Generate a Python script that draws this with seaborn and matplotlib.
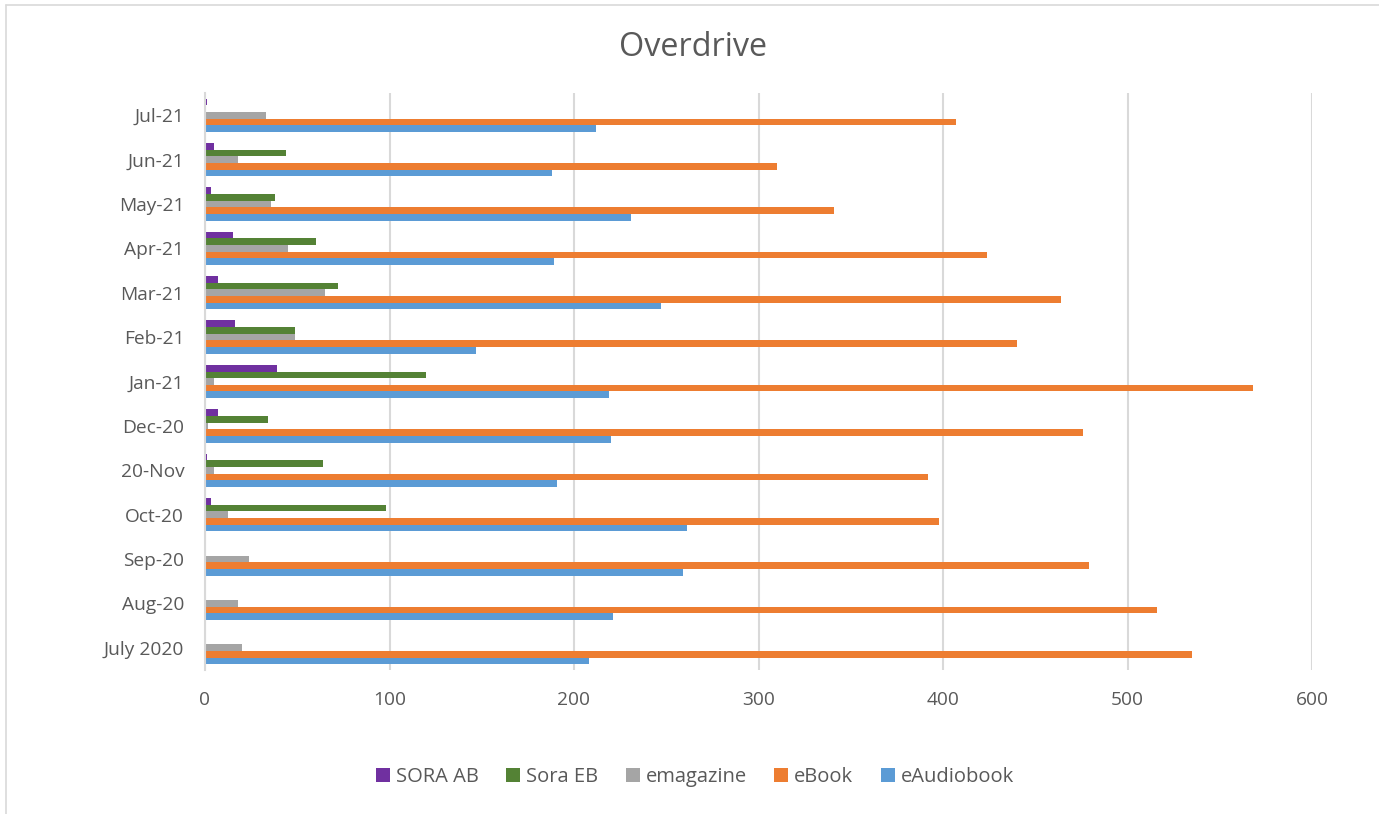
import matplotlib
matplotlib.use("Agg")
import matplotlib.pyplot as plt
import seaborn as sns
import pandas as pd
from matplotlib.lines import Line2D
from matplotlib.patches import Patch

months = ["Jul-21", "Jun-21", "May-21", "Apr-21", "Mar-21", "Feb-21", "Jan-21",
          "Dec-20", "20-Nov", "Oct-20", "Sep-20", "Aug-20", "July 2020"]
sora_ab = [1, 5, 3, 15, 7, 16, 39, 7, 1, 3, 0, 0, 0]
sora_eb = [0, 44, 38, 60, 72, 49, 120, 34, 64, 98, 0, 0, 0]
emagazine = [33, 18, 36, 45, 65, 49, 5, 1.5, 5, 12.5, 24, 18, 20]
ebook = [407, 310, 341, 424, 464, 440, 568, 476, 392, 398, 479, 516, 535]
eaudiobook = [212, 188, 231, 189, 247, 147, 219, 220, 191, 261, 259, 221, 208]

series_names = ["SORA AB", "Sora EB", "emagazine", "eBook", "eAudiobook"]
series_vals = [sora_ab, sora_eb, emagazine, ebook, eaudiobook]
colors = ["#7030A0", "#548235", "#A5A5A5", "#ED7D31", "#5B9BD5"]
ticks = [0, 100, 200, 300, 400, 500, 600]

rows = []
for name, vals in zip(series_names, series_vals):
    for m, v in zip(months, vals):
        rows.append({"month": m, "series": name, "value": v})
df = pd.DataFrame(rows)

sns.set_theme(style="white")
plt.rcParams["font.family"] = ["Open Sans", "DejaVu Sans"]
text_color = "#595959"

fig = plt.figure(figsize=(13.79, 8.14), dpi=100)
ax = fig.add_axes([205 / 1379, 1 - 670 / 814, (1312 - 205) / 1379, (670 - 93) / 814])

sns.barplot(data=df, y="month", x="value", hue="series", order=months,
            hue_order=series_names, palette=colors, orient="h", width=0.75,
            ax=ax, legend=False, saturation=1, edgecolor="none")

ax.set_xlim(0, 600)
ax.set_ylim(len(months) - 0.5, -0.5)
ax.set_xticks(ticks)
ax.set_xticklabels([str(t) for t in ticks])
ax.set_xlabel("")
ax.set_ylabel("")
ax.grid(axis="x", color="#D9D9D9", linewidth=1.5)
ax.grid(axis="y", visible=False)
ax.set_axisbelow(True)
for s in ["top", "right", "bottom"]:
    ax.spines[s].set_visible(False)
ax.spines["left"].set_color("#D9D9D9")
ax.spines["left"].set_linewidth(1.5)
ax.tick_params(axis="both", length=0, labelsize=13.8, colors=text_color)
ax.tick_params(axis="x", pad=15)
ax.tick_params(axis="y", pad=15)

fig.text(693 / 1379, 1 - 48 / 814, "Overdrive", ha="center", va="center",
         fontsize=23.3, color=text_color)

handles = [Patch(facecolor=c, edgecolor="none") for c in colors]
fig.legend(handles, series_names, loc="center", bbox_to_anchor=(695 / 1379, 1 - 777 / 814),
           ncol=5, frameon=False, fontsize=14.5, labelcolor=text_color,
           handlelength=0.7, handleheight=0.7, handletextpad=0.3, columnspacing=1.35)

# chart-area border (top and left visible)
fig.add_artist(Line2D([6 / 1379, 6 / 1379], [0, 1 - 5 / 814], color="#D9D9D9", linewidth=1.2,
                      transform=fig.transFigure))
fig.add_artist(Line2D([6 / 1379, 1], [1 - 5 / 814, 1 - 5 / 814], color="#D9D9D9", linewidth=1.2,
                      transform=fig.transFigure))

fig.savefig("out.png", dpi=100, facecolor="white")
